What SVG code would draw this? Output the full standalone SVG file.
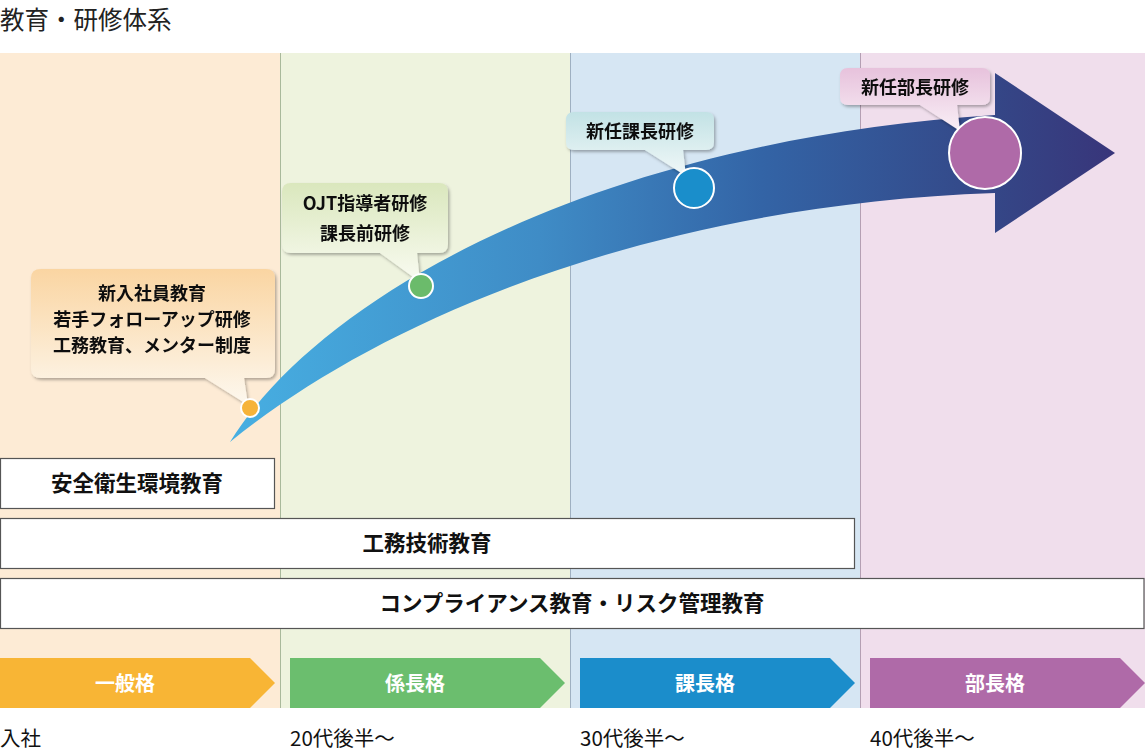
<svg xmlns="http://www.w3.org/2000/svg" width="1145" height="750" viewBox="0 0 1145 750">
<defs>
<style>
.t{font-family:"Noto Sans CJK JP","Noto Sans",sans-serif}
.b{font-weight:bold;fill:#111}
.cl{font-size:18px;text-anchor:middle}
.box{fill:#fff;stroke:#555;stroke-width:1.2}
.bx{font-size:21.5px;text-anchor:middle}
.gr{font-size:20px;font-weight:bold;fill:#fff;text-anchor:middle}
.lb{font-size:20.5px;fill:#111}
.dot{stroke:#fff;stroke-width:2}
</style>
<linearGradient id="ag" gradientUnits="userSpaceOnUse" x1="230" y1="0" x2="1115" y2="0">
<stop offset="0" stop-color="#47afe2"/>
<stop offset="0.35" stop-color="#3f8cc6"/>
<stop offset="0.6" stop-color="#3364a6"/>
<stop offset="0.85" stop-color="#344888"/>
<stop offset="1" stop-color="#38357a"/>
</linearGradient>
<linearGradient id="g1" x1="0" y1="0" x2="0" y2="1"><stop offset="0" stop-color="#fad5a2"/><stop offset="1" stop-color="#fdf8ef"/></linearGradient>
<linearGradient id="g2" x1="0" y1="0" x2="0" y2="1"><stop offset="0" stop-color="#dae7bd"/><stop offset="1" stop-color="#f9fbf1"/></linearGradient>
<linearGradient id="g3" x1="0" y1="0" x2="0" y2="1"><stop offset="0" stop-color="#c2e2e5"/><stop offset="1" stop-color="#f1f8f8"/></linearGradient>
<linearGradient id="g4" x1="0" y1="0" x2="0" y2="1"><stop offset="0" stop-color="#e7c2dc"/><stop offset="1" stop-color="#f9eff6"/></linearGradient>
<filter id="sh" x="-10%" y="-10%" width="130%" height="140%">
<feDropShadow dx="1.5" dy="2" stdDeviation="1.8" flood-color="#000" flood-opacity="0.3"/>
</filter>
</defs>
<rect width="1145" height="750" fill="#fff"/>
<text class="t" x="0" y="28.5" font-size="24.5" fill="#222">教育・研修体系</text>

<g id="columns">
<rect x="0" y="53" width="281" height="655" fill="#fdebd5"/>
<rect x="281" y="53" width="290" height="655" fill="#eef3de"/>
<rect x="571" y="53" width="290" height="655" fill="#d6e6f3"/>
<rect x="861" y="53" width="284" height="655" fill="#f0deec"/>
<line x1="280.5" y1="53" x2="280.5" y2="708" stroke="#a9b99b" stroke-width="1"/>
<line x1="570.5" y1="53" x2="570.5" y2="708" stroke="#9fb0c1" stroke-width="1"/>
<line x1="860.5" y1="53" x2="860.5" y2="708" stroke="#b49fb3" stroke-width="1"/>
</g>

<g id="box-anzen">
<rect class="box" x="0.5" y="458.5" width="274" height="50"/>
<text class="t b bx" x="137" y="491">安全衛生環境教育</text>
</g>
<g id="box-komu">
<rect class="box" x="0.5" y="518.5" width="854" height="50"/>
<text class="t b bx" x="427" y="551">工務技術教育</text>
</g>
<g id="box-compliance">
<rect class="box" x="0.5" y="578.5" width="1143.5" height="50"/>
<text class="t b bx" x="572" y="611">コンプライアンス教育・リスク管理教育</text>
</g>

<g id="connectors">
<path id="career-arrow" fill="url(#ag)" d="M230,442 C320,295 600,140 995,115 L995,73 L1115,153 L995,233 L995,193 C650,205 380,320 230,442 Z"/>
</g>

<g id="callout-shinnyu" filter="url(#sh)">
<path fill="url(#g1)" d="M41,269 H266 Q275,269 275,278 V369 Q275,378 266,378 H244 L248,405 L205,378 H41 Q31,378 31,369 V278 Q31,269 41,269 Z"/>
<text class="t b cl" x="152" y="300">新入社員教育</text>
<text class="t b cl" x="152" y="326">若手フォローアップ研修</text>
<text class="t b cl" x="152" y="352">工務教育、メンター制度</text>
</g>
<g id="callout-ojt" filter="url(#sh)">
<path fill="url(#g2)" d="M291,183 H439 Q448,183 448,192 V244 Q448,253 439,253 H417 L420,282 L380,253 H291 Q282,253 282,244 V192 Q282,183 291,183 Z"/>
<text class="t b cl" x="365" y="210">OJT指導者研修</text>
<text class="t b cl" x="365" y="240">課長前研修</text>
</g>
<g id="callout-kacho" filter="url(#sh)">
<path fill="url(#g3)" d="M574,112 H706 Q714,112 714,120 V142 Q714,150 706,150 H683 L686,176 L645,150 H574 Q566,150 566,142 V120 Q566,112 574,112 Z"/>
<text class="t b cl" x="640" y="138">新任課長研修</text>
</g>
<g id="callout-bucho" filter="url(#sh)">
<path fill="url(#g4)" d="M848,68 H982 Q990,68 990,76 V97 Q990,105 982,105 H957 L960,131 L920,105 H848 Q840,105 840,97 V76 Q840,68 848,68 Z"/>
<text class="t b cl" x="915" y="94">新任部長研修</text>
</g>

<g id="dots">
<circle class="dot" cx="250" cy="408" r="9" fill="#f6b33a"/>
<circle class="dot" cx="421" cy="286" r="12" fill="#6bbb6b"/>
<circle class="dot" cx="694" cy="188" r="20" fill="#1a8ecb"/>
<circle class="dot" cx="985" cy="153" r="36" fill="#af6aa8"/>
</g>

<g id="grade-ippan">
<path fill="#f8b535" d="M0,658 H250 L275,683 L250,708 H0 Z"/>
<text class="t gr" x="125" y="690.5">一般格</text>
</g>
<g id="grade-kakaricho">
<path fill="#6bbe6e" d="M290,658 H540 L565,683 L540,708 H290 Z"/>
<text class="t gr" x="415" y="690.5">係長格</text>
</g>
<g id="grade-kacho">
<path fill="#1b8dcb" d="M580,658 H830 L855,683 L830,708 H580 Z"/>
<text class="t gr" x="705" y="690.5">課長格</text>
</g>
<g id="grade-bucho">
<path fill="#af6aa8" d="M870,658 H1120 L1145,683 L1120,708 H870 Z"/>
<text class="t gr" x="995" y="690.5">部長格</text>
</g>

<g id="age-labels">
<text class="t lb" x="0" y="746">入社</text>
<text class="t lb" x="290" y="746">20代後半～</text>
<text class="t lb" x="580" y="746">30代後半～</text>
<text class="t lb" x="870" y="746">40代後半～</text>
</g>
</svg>
